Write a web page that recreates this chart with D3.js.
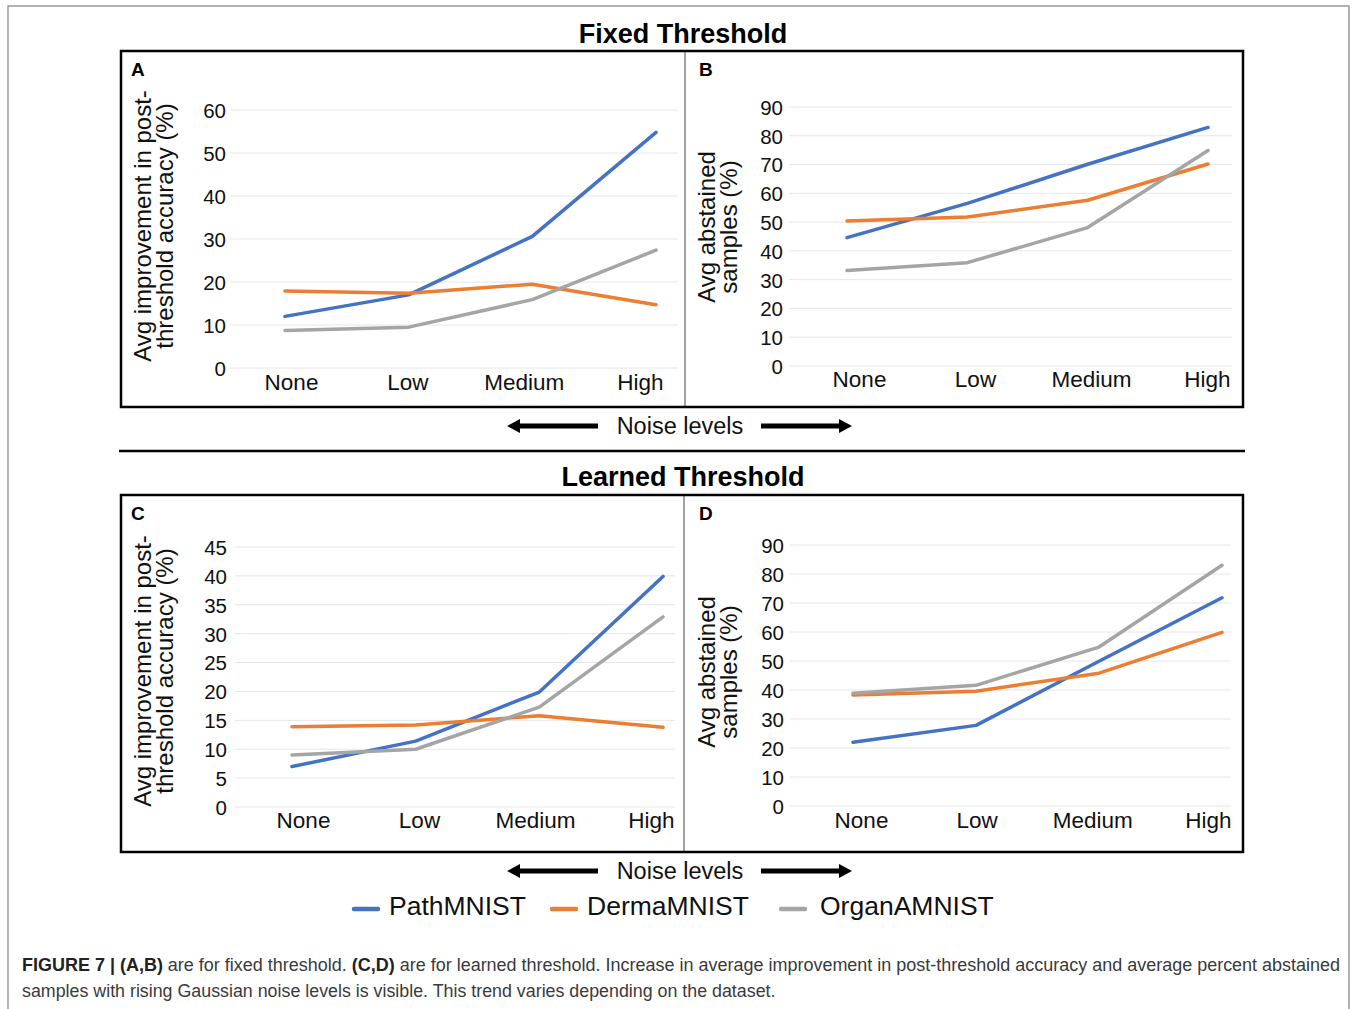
<!DOCTYPE html>
<html>
<head>
<meta charset="utf-8">
<script src="https://cdn.jsdelivr.net/npm/d3@7"></script>
<style>
  html, body { margin: 0; padding: 0; background: #fff; }
  svg { display: block; font-family: "Liberation Sans", Arial, Helvetica, sans-serif; }
</style>
</head>
<body>
<svg id="chart" width="1357" height="1009"></svg>
<script>
// ---------------- DATA ----------------
const categories = ["None", "Low", "Medium", "High"];
const seriesNames = ["PathMNIST", "DermaMNIST", "OrganAMNIST"];
const seriesColors = ["#4472C4", "#ED7D31", "#A5A5A5"];

// Panel A: Fixed threshold, avg improvement in post-threshold accuracy (%)
const aPath  = [12.0, 17.0, 30.6, 54.8];
const aDerma = [17.9, 17.4, 19.5, 14.7];
const aOrgan = [8.7, 9.5, 15.9, 27.4];
// Panel B: Fixed threshold, avg abstained samples (%)
const bPath  = [44.6, 56.5, 70.1, 82.9];
const bDerma = [50.4, 51.8, 57.6, 70.2];
const bOrgan = [33.2, 35.9, 48.1, 74.9];
// Panel C: Learned threshold, avg improvement in post-threshold accuracy (%)
const cPath  = [7.0, 11.4, 19.9, 39.9];
const cDerma = [13.9, 14.2, 15.8, 13.8];
const cOrgan = [9.0, 10.0, 17.3, 32.9];
// Panel D: Learned threshold, avg abstained samples (%)
const dPath  = [22.0, 27.8, 49.9, 71.8];
const dDerma = [38.3, 39.6, 45.8, 59.9];
const dOrgan = [38.9, 41.6, 54.8, 83.0];

const ticksA = [0, 10, 20, 30, 40, 50, 60];
const ticksB = [0, 10, 20, 30, 40, 50, 60, 70, 80, 90];
const ticksC = [0, 5, 10, 15, 20, 25, 30, 35, 40, 45];
const ticksD = [0, 10, 20, 30, 40, 50, 60, 70, 80, 90];

const titleAcc = ["Avg improvement in post-", "threshold accuracy (%)"];
const titleAbs = ["Avg abstained", "samples (%)"];

// ---------------- LAYOUT ----------------
const FONT = '"Liberation Sans", Arial, Helvetica, sans-serif';
const svg = d3.select("#chart");

// outer figure frame
svg.append("rect").attr("x", 8).attr("y", 6).attr("width", 1341).attr("height", 1010)
  .attr("fill", "none").attr("stroke", "#8a8a8a").attr("stroke-width", 1.3);

const panels = [
  { label: "A", series: [aPath, aDerma, aOrgan], ticks: ticksA, title: titleAcc,
    gx0: 230, gx1: 678, y0: 368, y1: 110, px0: 285, px1: 656, lx0: 291, lx1: 640, lby: 390,
    tickRight: 226, titleX: 151, titleY: 226, labX: 131, labY: 76 },
  { label: "B", series: [bPath, bDerma, bOrgan], ticks: ticksB, title: titleAbs,
    gx0: 789, gx1: 1232, y0: 366, y1: 107, px0: 847, px1: 1208, lx0: 859, lx1: 1207, lby: 387,
    tickRight: 783, titleX: 715, titleY: 227, labX: 699, labY: 76 },
  { label: "C", series: [cPath, cDerma, cOrgan], ticks: ticksC, title: titleAcc,
    gx0: 235, gx1: 675, y0: 807, y1: 547, px0: 292, px1: 663, lx0: 303, lx1: 651, lby: 828,
    tickRight: 227, titleX: 151, titleY: 671, labX: 131, labY: 520 },
  { label: "D", series: [dPath, dDerma, dOrgan], ticks: ticksD, title: titleAbs,
    gx0: 790, gx1: 1231, y0: 806, y1: 545, px0: 853, px1: 1222, lx0: 861, lx1: 1208, lby: 828,
    tickRight: 784, titleX: 715, titleY: 672, labX: 699, labY: 520 }
];

panels.forEach(p => {
  const g = svg.append("g");
  const yMax = p.ticks[p.ticks.length - 1];
  const y = d3.scaleLinear().domain([0, yMax]).range([p.y0, p.y1]);
  const x = d3.scalePoint().domain(categories).range([p.px0, p.px1]);
  const xl = d3.scalePoint().domain(categories).range([p.lx0, p.lx1]);

  // gridlines
  g.append("g").selectAll("line").data(p.ticks).join("line")
    .attr("x1", p.gx0).attr("x2", p.gx1)
    .attr("y1", d => y(d)).attr("y2", d => y(d))
    .attr("stroke", "#e6e6e6").attr("stroke-width", 1);

  // y axis labels
  const ya = g.append("g").attr("transform", `translate(${p.tickRight},0)`)
    .call(d3.axisLeft(y).tickValues(p.ticks).tickSize(0).tickPadding(0));
  ya.select(".domain").remove();
  ya.selectAll("text").attr("font-family", FONT).attr("font-size", 20.5).attr("fill", "#111")
    .attr("dy", "0.36em");

  // x axis labels
  const xa = g.append("g").attr("transform", `translate(0,${p.lby})`)
    .call(d3.axisBottom(xl).tickSize(0).tickPadding(0));
  xa.select(".domain").remove();
  xa.selectAll("text").attr("font-family", FONT).attr("font-size", 22.5).attr("fill", "#111")
    .attr("dy", 0);

  // lines
  const line = d3.line().x((d, i) => x(categories[i])).y(d => y(d));
  p.series.forEach((s, si) => {
    g.append("path").datum(s).attr("d", line)
      .attr("fill", "none").attr("stroke", seriesColors[si]).attr("stroke-width", 3.5)
      .attr("stroke-linecap", "round").attr("stroke-linejoin", "round");
  });

  // y-axis title (two lines, rotated)
  p.title.forEach((t, i) => {
    g.append("text")
      .attr("transform", `translate(${p.titleX + i * 22},${p.titleY}) rotate(-90)`)
      .attr("text-anchor", "middle").attr("font-family", FONT).attr("font-size", 24)
      .attr("fill", "#111").text(t);
  });

  // panel letter
  g.append("text").attr("x", p.labX).attr("y", p.labY)
    .attr("font-family", FONT).attr("font-size", 19).attr("font-weight", "bold")
    .attr("fill", "#000").text(p.label);
});

// panel frames
[[51, 407, 685], [495, 852, 684]].forEach(([t, b, sx]) => {
  svg.append("line").attr("x1", sx).attr("x2", sx).attr("y1", t).attr("y2", b)
    .attr("stroke", "#444").attr("stroke-width", 1);
  svg.append("rect").attr("x", 121).attr("y", t).attr("width", 1122).attr("height", b - t)
    .attr("fill", "none").attr("stroke", "#000").attr("stroke-width", 2.5);
});

// section titles
[["Fixed Threshold", 43], ["Learned Threshold", 486]].forEach(([t, yy]) => {
  svg.append("text").attr("x", 683).attr("y", yy).attr("text-anchor", "middle")
    .attr("font-family", FONT).attr("font-size", 27).attr("font-weight", "bold")
    .attr("fill", "#000").text(t);
});

// horizontal separator
svg.append("line").attr("x1", 119).attr("x2", 1245).attr("y1", 451).attr("y2", 451)
  .attr("stroke", "#000").attr("stroke-width", 2.5);

// noise level arrows
function arrow(x1, x2, yy) {
  const dir = Math.sign(x2 - x1);
  const head = 13;
  svg.append("line").attr("x1", x1).attr("x2", x2 - dir * head + dir * 1).attr("y1", yy).attr("y2", yy)
    .attr("stroke", "#000").attr("stroke-width", 5);
  svg.append("path")
    .attr("d", `M${x2},${yy} L${x2 - dir * head},${yy - 7} L${x2 - dir * head},${yy + 7} Z`)
    .attr("fill", "#000");
}
[426, 871].forEach(yy => {
  arrow(598, 507, yy);
  arrow(761, 852, yy);
  svg.append("text").attr("x", 680).attr("y", yy + 8).attr("text-anchor", "middle")
    .attr("font-family", FONT).attr("font-size", 23.5).attr("fill", "#111").text("Noise levels");
});

// legend
const legendX = [354, 552, 781];
const legendTextX = [389, 587, 820];
seriesNames.forEach((n, i) => {
  svg.append("line").attr("x1", legendX[i]).attr("x2", legendX[i] + 24)
    .attr("y1", 909).attr("y2", 909).attr("stroke", seriesColors[i]).attr("stroke-width", 4.5)
    .attr("stroke-linecap", "round");
  svg.append("text").attr("x", legendTextX[i]).attr("y", 915)
    .attr("font-family", FONT).attr("font-size", 26.5).attr("fill", "#111").text(n);
});

// caption (condensed horizontally to the reference width with a scale transform)
function fitText(sel, x0, y0, width) {
  const w = sel.node().getBBox().width;
  sel.attr("transform", `translate(${x0},${y0}) scale(${width / w},1)`);
}
const cap1 = svg.append("text").attr("x", 0).attr("y", 0)
  .attr("font-family", FONT).attr("font-size", 18.5).attr("fill", "#3a3a3a");
cap1.append("tspan").attr("font-weight", "bold").attr("fill", "#222").text("FIGURE 7 | (A,B)");
cap1.append("tspan").text(" are for fixed threshold. ");
cap1.append("tspan").attr("font-weight", "bold").attr("fill", "#222").text("(C,D)");
cap1.append("tspan").text(" are for learned threshold. Increase in average improvement in post-threshold accuracy and average percent abstained");
fitText(cap1, 22, 971, 1319);
const cap2 = svg.append("text").attr("x", 0).attr("y", 0)
  .attr("font-family", FONT).attr("font-size", 18.5).attr("fill", "#3a3a3a")
  .text("samples with rising Gaussian noise levels is visible. This trend varies depending on the dataset.");
fitText(cap2, 22, 997, 754);
</script>
</body>
</html>
